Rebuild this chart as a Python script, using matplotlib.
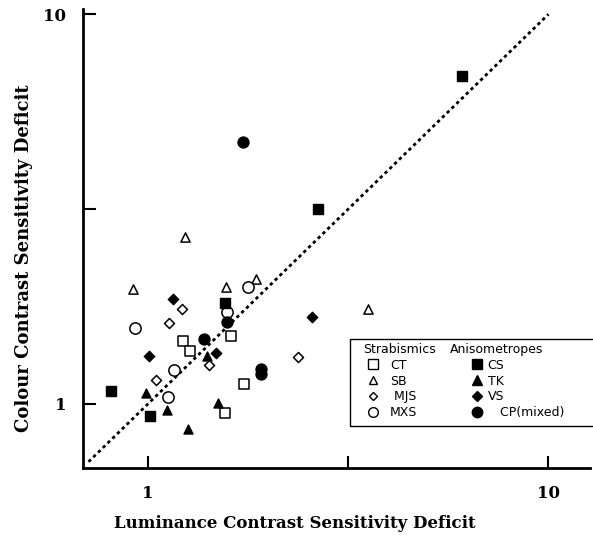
import numpy as np
import matplotlib
matplotlib.use('Agg')
from matplotlib import pyplot as plt
from matplotlib.lines import Line2D
from matplotlib.patches import Rectangle

# Strabismics (open symbols)
ct_x = [1.225, 1.273, 1.61, 1.74, 1.557]
ct_y = [1.453, 1.37, 1.494, 1.123, 0.946]
sb_x = [1.237, 0.916, 1.563, 1.857, 3.54]
sb_y = [2.676, 1.97, 1.99, 2.09, 1.75]
mjs_x = [1.218, 1.13, 1.42, 1.047, 2.37]
mjs_y = [1.752, 1.61, 1.259, 1.152, 1.315]
mxs_x = [0.928, 1.78, 1.578, 1.163, 1.124]
mxs_y = [1.57, 2.0, 1.72, 1.22, 1.044]

# Anisometropes (filled symbols)
cs_x = [0.807, 1.01, 1.556, 6.07, 2.65]
cs_y = [1.08, 0.928, 1.816, 6.93, 3.16]
tk_x = [0.989, 1.113, 1.26, 1.401, 1.498]
tk_y = [1.065, 0.965, 0.863, 1.33, 1.004]
vs_x = [1.157, 1.006, 1.476, 2.57]
vs_y = [1.86, 1.33, 1.354, 1.675]
cp_x = [1.38, 1.576, 1.915, 1.915, 1.723]
cp_y = [1.465, 1.623, 1.23, 1.19, 4.71]

unity = [0.71, 10.0]

fig = plt.figure(figsize=(5.93, 5.44), dpi=100)
ax = fig.add_axes([0.140, 0.140, 0.855, 0.843])

ax.plot(unity, unity, color='black', linestyle=(0, (1.2, 1.2)), linewidth=2.0)

lw = 1.1
ax.scatter(ct_x, ct_y, marker='s', s=58, facecolors='white', edgecolors='black', linewidths=lw, zorder=3)
ax.scatter(sb_x, sb_y, marker='^', s=44, facecolors='white', edgecolors='black', linewidths=lw, zorder=3)
ax.scatter(mjs_x, mjs_y, marker='D', s=26, facecolors='white', edgecolors='black', linewidths=lw, zorder=3)
ax.scatter(mxs_x, mxs_y, marker='o', s=66, facecolors='white', edgecolors='black', linewidths=lw, zorder=3)
ax.scatter(cs_x, cs_y, marker='s', s=50, color='black', zorder=4)
ax.scatter(tk_x, tk_y, marker='^', s=42, color='black', zorder=4)
ax.scatter(vs_x, vs_y, marker='D', s=28, color='black', zorder=4)
ax.scatter(cp_x, cp_y, marker='o', s=62, color='black', zorder=4)

ax.set_xscale('log')
ax.set_yscale('log')
ax.set_xlim(0.688, 12.7)
ax.set_ylim(0.685, 10.3)

ticks = [1, 10 ** 0.5, 10]
labels = ['1', '', '10']
ax.set_xticks(ticks)
ax.set_xticklabels(labels)
ax.set_yticks(ticks)
ax.set_yticklabels(labels)
ax.minorticks_off()
ax.tick_params(direction='in', length=9, width=1.5, pad=12)
for t in ax.get_xticklabels() + ax.get_yticklabels():
    t.set_family('DejaVu Serif')
    t.set_fontweight('bold')
    t.set_fontsize(12)

for side in ['top', 'right']:
    ax.spines[side].set_visible(False)
for side in ['left', 'bottom']:
    ax.spines[side].set_linewidth(2.0)

ax.set_xlabel('Luminance Contrast Sensitivity Deficit', family='DejaVu Serif',
              fontweight='bold', fontsize=12)
ax.xaxis.set_label_coords(0.418, -0.102)
ax.set_ylabel('Colour Contrast Sensitivity Deficit', family='DejaVu Serif',
              fontweight='bold', fontsize=13)
ax.yaxis.set_label_coords(-0.099, 0.457)

# two-part legend in a single frame
def key(m, filled, ms):
    return Line2D([], [], linestyle='none', marker=m, markersize=ms,
                  markerfacecolor='black' if filled else 'white',
                  markeredgecolor='black', markeredgewidth=1.0)

strab = [key('s', False, 6.5), key('^', False, 5.5), key('D', False, 4), key('o', False, 7)]
aniso = [key('s', True, 6.5), key('^', True, 6.5), key('D', True, 5), key('o', True, 7.5)]

common = dict(frameon=False, fontsize=9, alignment='left', labelspacing=0.22,
              borderpad=0, borderaxespad=0, loc='upper left',
              title_fontproperties={'size': 9})
leg1 = ax.legend(strab, ['CT', 'SB', ' MJS', 'MXS'], title='Strabismics',
                 bbox_to_anchor=(0.552, 0.272), handlelength=1.6, handletextpad=0.55,
                 **common)
ax.add_artist(leg1)
leg2 = ax.legend(aniso, ['CS', 'TK', 'VS', '   CP(mixed)'], title='Anisometropes',
                 bbox_to_anchor=(0.724, 0.272), handlelength=4.3, handletextpad=-1.3,
                 **common)
ax.add_patch(Rectangle((0.527, 0.0915), 0.5, 0.19, transform=ax.transAxes,
                       fill=False, edgecolor='black', linewidth=1.0, clip_on=False, zorder=5))

fig.savefig('out.png', dpi=100)
